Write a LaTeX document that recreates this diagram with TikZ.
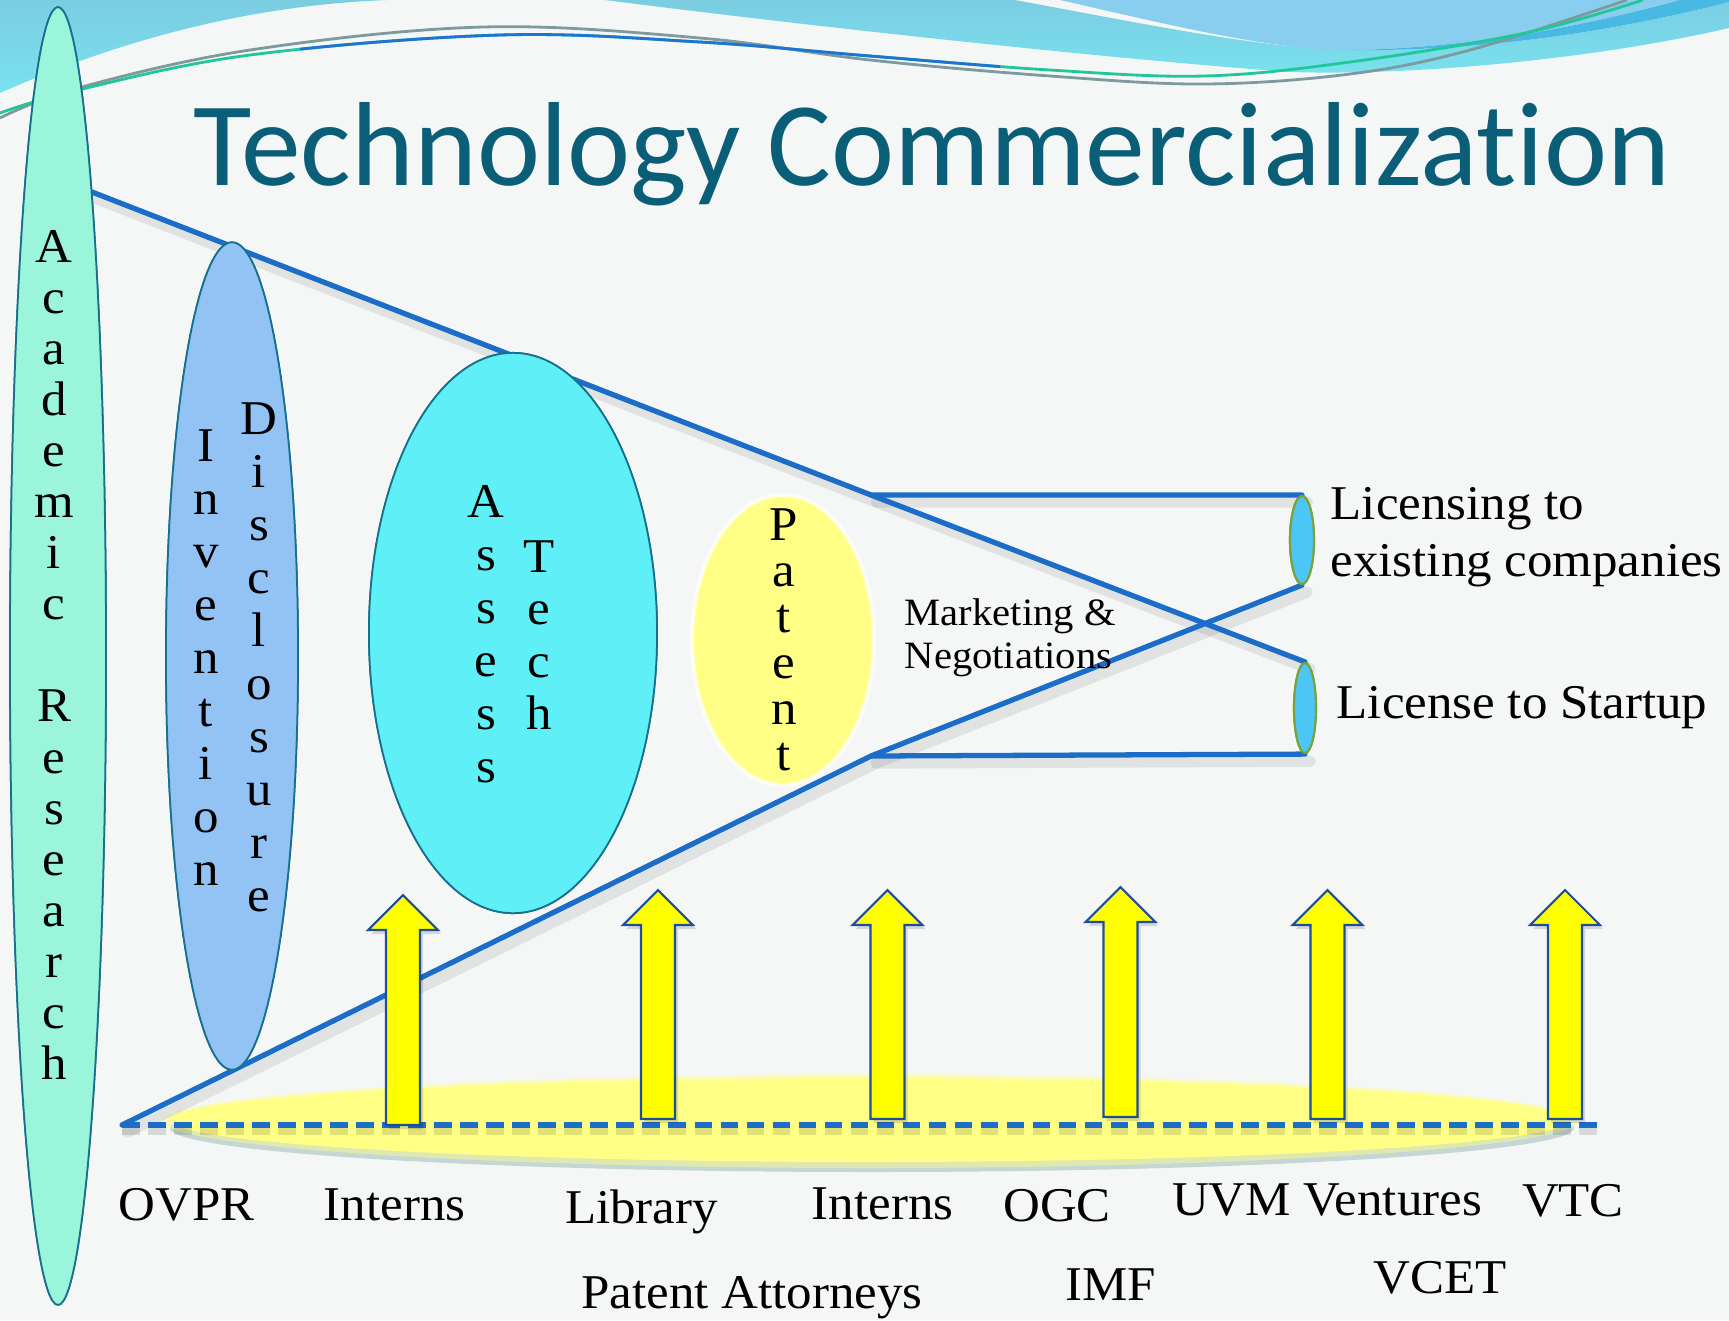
\documentclass[tikz,border=0pt]{standalone}
\usepackage{fontspec}
\setmainfont{Liberation Serif}[FakeStretch=1.05]
\newfontfamily\titlefont{Carlito}[Ligatures=NoCommon]
\usetikzlibrary{shapes.geometric}

\definecolor{bgpaper}{HTML}{F5F7F7}
\definecolor{wavetop}{HTML}{7BCDE1}
\definecolor{wavebot}{HTML}{79E2EE}
\definecolor{waveblue}{HTML}{89CEEF}
\definecolor{wavedeep}{HTML}{48B9E3}
\definecolor{linegreen}{HTML}{1FC79A}
\definecolor{lineblue}{HTML}{1E74D2}
\definecolor{linegray}{HTML}{7E9A9E}
\definecolor{titleteal}{HTML}{0B5E77}
\definecolor{funnelblue}{HTML}{1C6DC7}
\definecolor{rimteal}{HTML}{17708C}
\definecolor{mint}{HTML}{9AF5DA}
\definecolor{cornflower}{HTML}{93C3F4}
\definecolor{brightcyan}{HTML}{5EF0F6}
\definecolor{paleyellow}{HTML}{FFFF86}
\definecolor{skyfill}{HTML}{4CC6F4}
\definecolor{olive}{HTML}{7AA23A}
\definecolor{arrowyellow}{HTML}{FFFF00}
\definecolor{arrowedge}{HTML}{1F4F9C}
\definecolor{shadowteal}{HTML}{6E9A98}

\begin{document}
\begin{tikzpicture}[x=0.01cm,y=-0.01cm,
  blob/.style={ellipse, inner sep=0, draw=rimteal, line width=0.5pt},
  funnel/.style={draw=funnelblue, line width=1.5pt, line cap=round, line join=round},
  funnelshade/.style={draw=black, opacity=0.08, line width=3.2pt, line cap=round},
  arrowbox/.style={fill=arrowyellow, draw=arrowedge, line width=0.6pt, line join=miter},
  lettr/.style={anchor=base, inner sep=0, font=\fontsize{13.8}{16}\selectfont},
  label/.style={anchor=base, inner sep=0, font=\fontsize{13.8}{16}\selectfont},
  sidelabel/.style={anchor=base west, inner sep=0, font=\fontsize{13.8}{16}\selectfont},
]
\useasboundingbox (0,0) rectangle (1729,1320);
\fill[bgpaper] (0,0) rectangle (1729,1320);

% ---- header swooshes ----
\shade[top color=wavetop, bottom color=wavebot]
  (0,0) -- (388,0) .. controls (250,5) and (120,40) .. (0,93) -- cycle;
\shade[top color=wavetop, bottom color=wavebot]
  (605,0) -- (1015,0) .. controls (1150,25) and (1260,48) .. (1350,50)
  .. controls (1500,52) and (1640,25) .. (1729,2) -- (1729,28)
  .. controls (1600,58) and (1420,76) .. (1290,72)
  .. controls (1100,58) and (800,25) .. (605,0) -- cycle;
\fill[waveblue] (1060,0) .. controls (1170,25) and (1270,50) .. (1350,50)
  .. controls (1480,48) and (1600,22) .. (1680,0) -- cycle;
\fill[wavedeep] (1350,50) .. controls (1480,48) and (1600,22) .. (1680,0)
  -- (1729,0) -- (1729,2) .. controls (1640,25) and (1500,52) .. (1350,50) -- cycle;

\draw[linegray, line width=0.8pt] plot[smooth, tension=0.6] coordinates
  {(0,118) (78,88) (250,50) (483,27) (700,38) (870,60) (1050,76) (1204,84) (1350,74) (1470,50) (1627,0)};
\draw[linegreen, line width=0.8pt] plot[smooth, tension=0.6] coordinates
  {(0,113) (78,90) (250,55) (500,35) (700,42) (870,56) (1050,70) (1204,76) (1350,62) (1525,33) (1643,0)};
\begin{scope}
  \clip (300,0) rectangle (1000,120);
  \draw[lineblue, line width=0.8pt] plot[smooth, tension=0.6] coordinates
    {(0,113) (78,90) (250,55) (500,35) (700,42) (870,56) (1050,70) (1204,76) (1350,62) (1525,33) (1643,0)};
\end{scope}

% ---- flat yellow base ----
\fill[shadowteal, opacity=0.35] (872,1128) ellipse [x radius=702, y radius=44];
\fill[paleyellow, opacity=0.45] (870,1121) ellipse [x radius=708, y radius=47];
\fill[paleyellow] (870,1120) ellipse [x radius=700, y radius=42];

% ---- stage shapes ----
\node[blob, fill=mint, minimum width=0.96cm, minimum height=12.97cm] (acad) at (58,656) {};
\node[blob, fill=cornflower, minimum width=1.32cm, minimum height=8.27cm] (invent) at (232,656) {};
\node[blob, fill=brightcyan, minimum width=2.88cm, minimum height=5.6cm] (assess) at (513,633) {};
\node[ellipse, inner sep=0, fill=paleyellow, draw=white, draw opacity=0.7, line width=1.2pt,
      minimum width=1.82cm, minimum height=2.9cm] (patent) at (783,640) {};
\node[ellipse, inner sep=0, fill=skyfill, draw=olive, line width=0.6pt,
      minimum width=0.24cm, minimum height=0.88cm] (exist) at (1302,540) {};
\node[ellipse, inner sep=0, fill=skyfill, draw=olive, line width=0.6pt,
      minimum width=0.22cm, minimum height=0.90cm] (startup) at (1305,708) {};

% ---- funnel ----
\coordinate (topstart) at (92,192);
\coordinate (botstart) at (122,1125);
\coordinate (upperknee) at (871,495);
\coordinate (lowerknee) at (871,756);
\coordinate (baseend) at (1598,1125);

\begin{scope}[transform canvas={xshift=1.5pt,yshift=-2pt}]
  \draw[funnelshade] (topstart) -- (upperknee) -- (startup.north);
  \draw[funnelshade] (botstart) -- (lowerknee) -- (exist.south);
  \draw[funnelshade] (upperknee) -- (exist.north);
  \draw[funnelshade] (lowerknee) -- (startup.south);
\end{scope}
\draw[funnel] (topstart) -- (upperknee) -- (startup.north);
\draw[funnel] (botstart) -- (lowerknee) -- (exist.south);
\draw[funnel] (upperknee) -- (exist.north);
\draw[funnel] (lowerknee) -- (startup.south);

% redraw shapes that sit in front of the funnel lines
\node[blob, fill=mint, minimum width=0.96cm, minimum height=12.97cm] at (acad) {};
\node[blob, fill=cornflower, minimum width=1.32cm, minimum height=8.27cm] at (invent) {};
\node[blob, fill=brightcyan, minimum width=2.88cm, minimum height=5.6cm] at (assess) {};
\node[ellipse, inner sep=0, fill=skyfill, draw=olive, line width=0.6pt,
      minimum width=0.24cm, minimum height=0.88cm] at (exist) {};
\node[ellipse, inner sep=0, fill=skyfill, draw=olive, line width=0.6pt,
      minimum width=0.22cm, minimum height=0.90cm] at (startup) {};

% ---- base line and support arrows ----
\draw[black, opacity=0.12, line width=2.4pt, dash pattern=on 5pt off 2.4pt,
      transform canvas={yshift=-1.5pt}] (botstart) -- (baseend);
\draw[funnelblue, line width=1.7pt, dash pattern=on 5pt off 2.4pt] (botstart) -- (baseend);

\foreach \cx/\tip/\bot in {403/895/1125, 658/890/1119, 887.5/890/1119,
                           1120.5/887/1117, 1327.5/890/1119, 1565/890/1119} {
  \fill[black, opacity=0.13]
    (\cx-14,\bot+4) -- (\cx-14,\tip+39) -- (\cx-32,\tip+39) -- (\cx+3,\tip+4)
    -- (\cx+38,\tip+39) -- (\cx+20,\tip+39) -- (\cx+20,\bot+4) -- cycle;
  \draw[arrowbox]
    (\cx-17,\bot) -- (\cx-17,\tip+35) -- (\cx-35,\tip+35) -- (\cx,\tip)
    -- (\cx+35,\tip+35) -- (\cx+17,\tip+35) -- (\cx+17,\bot) -- cycle;
}

% ---- stacked lettering ----
\foreach \ch [count=\i from 0] in {A,c,a,d,e,m,i,c,{},R,e,s,e,a,r,c,h}
  \node[lettr] (acad-\i) at (54,262+51.1*\i) {\ch};
\foreach \ch [count=\i from 0] in {I,n,v,e,n,t,i,o,n}
  \node[lettr] (inv-\i) at (206,461+53*\i) {\ch};
\foreach \ch [count=\i from 0] in {D,i,s,c,l,o,s,u,r,e}
  \node[lettr] (disc-\i) at (259,434.5+53*\i) {\ch};
\foreach \ch [count=\i from 0] in {A,s,s,e,s,s}
  \node[lettr] (ass-\i) at (486,517+53*\i) {\ch};
\foreach \ch [count=\i from 0] in {T,e,c,h}
  \node[lettr] (tech-\i) at (539,572+52.5*\i) {\ch};
\foreach \ch [count=\i from 0] in {P,a,t,e,n,t}
  \node[lettr] (pat-\i) at (784,540+46*\i) {\ch};

% ---- labels ----
\node[sidelabel, font=\fontsize{11}{13}\selectfont] (mkt1) at (904,625) {Marketing \&};
\node[sidelabel, font=\fontsize{11}{13}\selectfont] (mkt2) at (904,668) {Negotiations};
\node[sidelabel] (lic1) at (1330,519) {Licensing to};
\node[sidelabel] (lic2) at (1330,576) {existing companies};
\node[sidelabel] (lic3) at (1336,718) {License to Startup};

\node[label] (ovpr) at (186.5,1220) {OVPR};
\node[label] (intern1) at (394.7,1220) {Interns};
\node[label] (library) at (641.4,1223) {Library};
\node[label] (intern2) at (882.7,1219) {Interns};
\node[label] (ogc) at (1057,1221) {OGC};
\node[label] (uvmv) at (1327,1215) {UVM Ventures};
\node[label] (vtc) at (1573,1216) {VTC};
\node[label] (imf) at (1111,1300) {IMF};
\node[label] (vcet) at (1440,1293) {VCET};
\node[label] (patatt) at (752,1308) {Patent Attorneys};

% ---- title ----
\node[anchor=base west, inner sep=0, text=titleteal, font=\titlefont\fontsize{34}{40}\selectfont]
  (title) at (193,185) {Technology Commercialization};
\end{tikzpicture}
\end{document}
